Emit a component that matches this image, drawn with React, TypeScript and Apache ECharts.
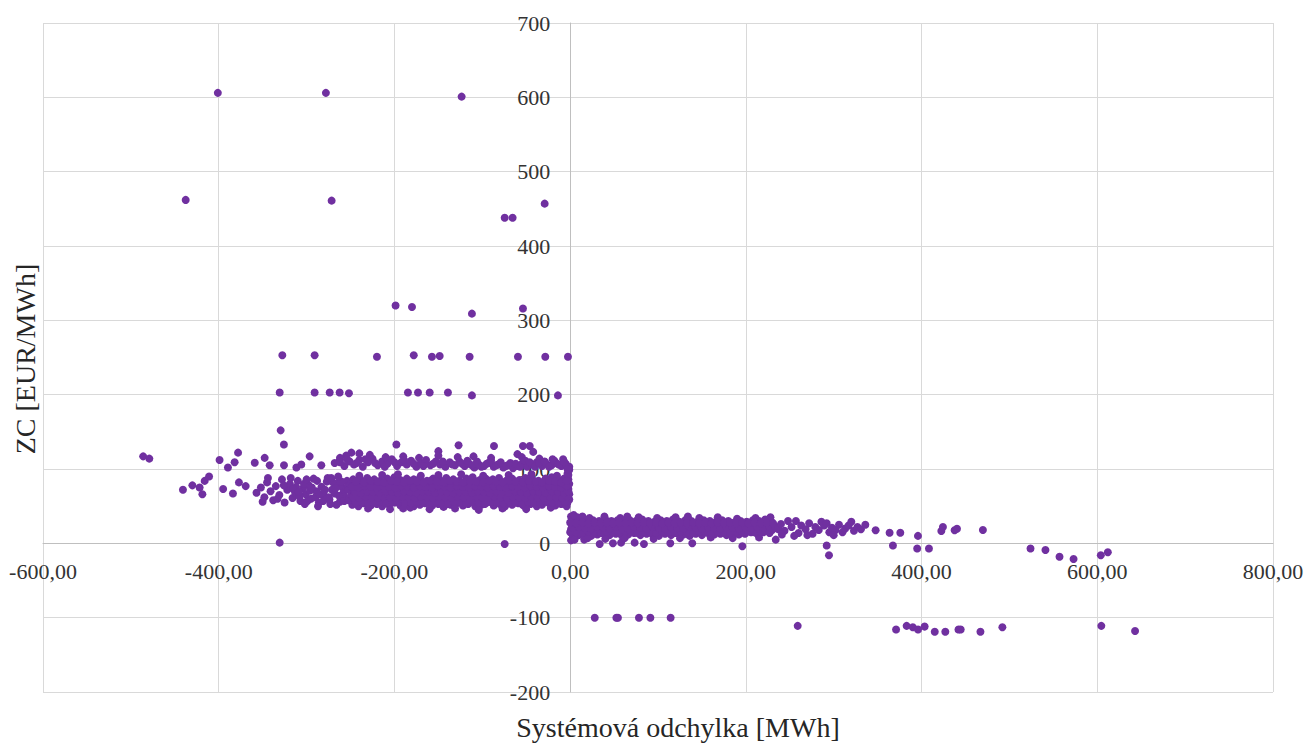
import React, { useEffect, useRef } from "react";
import * as echarts from "echarts";

// ---- Data: [systémová odchylka (MWh), ZC (EUR/MWh)] ----
const highOutliers: [number, number][] = [
  [-401, 606], [-278, 606], [-123.5, 601], [-437.6, 462], [-271.5, 461], [-74.5, 438], [-65.5, 438], [-29, 457],
  [-198.7, 320], [-180, 318], [-111.8, 309], [-53.7, 316],
  [-327.6, 253], [-290.8, 253], [-219.9, 251], [-178, 253], [-157.3, 251], [-148.5, 252], [-114.4, 251], [-59.4, 251], [-28.3, 251], [-2.5, 251],
  [-330.6, 203], [-290.8, 203], [-273.7, 203], [-262.4, 203], [-251.8, 202], [-184.6, 203], [-173.2, 203], [-159.9, 203], [-139.1, 203], [-111.8, 199], [-13.9, 199],
  [-329.5, 152], [-325.8, 133], [-197.8, 133], [-127, 132], [-86.7, 131], [-53.7, 131], [-46, 131], [-150, 124], [-60, 120], [-42, 123], [-240, 121],
];

const farLeftPoints: [number, number][] = [
  [-486, 117], [-479, 114], [-440.7, 72], [-430, 78], [-421.7, 75], [-418.6, 66], [-416, 84], [-411, 90],
  [-399, 112], [-389.5, 102], [-381.9, 109], [-378, 122], [-395, 73], [-383.8, 67], [-377, 82], [-369.3, 77],
  [-359, 108.5], [-347.7, 115], [-342, 105], [-325.7, 105], [-311.6, 102], [-306, 106], [-296.5, 117],
  [-283.2, 105], [-262.3, 111], [-249, 122],
];

const negMainBandLeft: [number, number][] = [
  [-357, 68], [-352, 75], [-348, 62], [-345, 82], [-341, 70], [-338, 58], [-335, 77], [-331, 65], [-328, 86],
  [-325, 55], [-322, 72], [-319, 80], [-316, 61], [-313, 68], [-310, 84], [-307, 57], [-304, 74], [-301, 66],
  [-298, 79], [-295, 60], [-292, 87], [-289, 70], [-286, 55], [-283, 76], [-280, 64], [-277, 83], [-274, 59],
  [-271, 72], [-268, 67], [-265, 80], [-262, 56], [-259, 75], [-256, 62], [-254, 84], [-350, 56], [-333, 60],
  [-318, 88], [-302, 53], [-290, 62], [-276, 88], [-266, 52], [-344, 88], [-326, 78], [-312, 76], [-296, 71],
  [-281, 57], [-270, 82], [-258, 68],
  [-308, 63], [-303, 80], [-299, 57], [-294, 75], [-288, 84], [-285, 66], [-279, 72], [-275, 62], [-272, 88],
  [-267, 74], [-263, 64], [-260, 83], [-257, 57], [-253, 77], [-300, 86], [-287, 50], [-273, 53], [-315, 73],
  [-309, 69], [-264, 90],
];

const negMainBand: [number, number][] = [
  [-248, 52], [-241, 50], [-235, 54], [-227, 51], [-220, 53], [-214, 50], [-206, 52], [-199, 55], [-193, 51], [-185, 53],
  [-178, 50], [-171, 52], [-165, 54], [-157, 51], [-150, 53], [-144, 49], [-136, 52], [-129, 54], [-122, 51], [-116, 53],
  [-108, 50], [-101, 52], [-95, 55], [-87, 51], [-80, 53], [-74, 50], [-66, 52], [-59, 54], [-53, 51], [-45, 53],
  [-38, 50], [-32, 52], [-24, 54], [-17, 51], [-10, 53], [-4, 50],
  [-252, 58], [-245, 57], [-238, 60], [-231, 58], [-224, 56], [-217, 59], [-210, 61], [-203, 57], [-196, 59], [-189, 58],
  [-182, 60], [-175, 56], [-168, 59], [-161, 57], [-154, 60], [-147, 58], [-140, 56], [-133, 59], [-126, 61], [-119, 57],
  [-112, 59], [-105, 58], [-98, 60], [-91, 56], [-84, 59], [-77, 57], [-70, 60], [-63, 58], [-56, 56], [-49, 59],
  [-42, 61], [-35, 57], [-28, 59], [-21, 58], [-14, 60], [-7, 57], [-1, 59],
  [-249, 65], [-242, 63], [-234, 66], [-228, 64], [-221, 67], [-213, 65], [-207, 63], [-200, 66], [-192, 64], [-186, 68],
  [-179, 65], [-172, 63], [-164, 66], [-158, 64], [-151, 67], [-143, 65], [-137, 63], [-130, 66], [-123, 64], [-115, 67],
  [-109, 65], [-102, 63], [-94, 66], [-88, 64], [-81, 67], [-73, 65], [-67, 63], [-60, 66], [-52, 64], [-46, 67],
  [-39, 65], [-31, 63], [-25, 66], [-18, 64], [-11, 67], [-5, 65],
  [-253, 72], [-246, 71], [-239, 74], [-232, 72], [-225, 70], [-218, 73], [-211, 75], [-204, 71], [-197, 73], [-190, 72],
  [-183, 74], [-176, 70], [-169, 73], [-162, 71], [-155, 74], [-148, 72], [-141, 70], [-134, 73], [-127, 75], [-120, 71],
  [-113, 73], [-106, 72], [-99, 74], [-92, 70], [-85, 73], [-78, 71], [-71, 74], [-64, 72], [-57, 70], [-50, 73],
  [-43, 75], [-36, 71], [-29, 73], [-22, 72], [-15, 74], [-8, 70], [-2, 73],
  [-250, 79], [-243, 77], [-236, 80], [-229, 78], [-222, 81], [-215, 79], [-208, 77], [-201, 80], [-194, 78], [-187, 82],
  [-180, 79], [-173, 77], [-166, 80], [-159, 78], [-152, 81], [-145, 79], [-138, 77], [-131, 80], [-124, 78], [-117, 81],
  [-110, 79], [-103, 77], [-96, 80], [-89, 78], [-82, 81], [-75, 79], [-68, 77], [-61, 80], [-54, 78], [-47, 81],
  [-40, 79], [-33, 77], [-26, 80], [-19, 78], [-12, 81], [-6, 79],
  [-247, 86], [-238, 85], [-231, 88], [-223, 86], [-216, 84], [-208, 87], [-200, 89], [-193, 85], [-186, 87], [-178, 86],
  [-171, 88], [-163, 84], [-156, 87], [-148, 85], [-141, 88], [-133, 86], [-126, 84], [-118, 87], [-111, 89], [-103, 85],
  [-96, 87], [-88, 86], [-81, 88], [-73, 84], [-66, 87], [-58, 85], [-51, 88], [-43, 86], [-36, 84], [-28, 87],
  [-21, 89], [-13, 85], [-7, 87], [-2, 86],
  [-230, 47], [-205, 46], [-182, 48], [-160, 46], [-131, 47], [-104, 45], [-77, 47], [-50, 46], [-22, 48], [-190, 47],
  [-240, 91], [-214, 92], [-196, 93], [-170, 91], [-150, 92], [-124, 93], [-99, 91], [-70, 92], [-44, 93], [-15, 91], [-3, 94],
  [-244, 68], [-219, 62], [-195, 69], [-168, 76], [-139, 61], [-112, 68], [-86, 76], [-62, 61], [-35, 68], [-9, 76],
  [-3, 55], [-1, 66], [-1, 80], [-2, 92], [-1, 99],
];

const negMainBandFill: [number, number][] = [
  [-244, 55], [-237, 56], [-230, 54], [-223, 55], [-216, 56], [-209, 54], [-202, 55], [-195, 57], [-188, 55], [-181, 54],
  [-174, 56], [-167, 55], [-160, 54], [-153, 56], [-146, 55], [-139, 53], [-132, 56], [-125, 55], [-118, 54], [-111, 56],
  [-104, 55], [-97, 53], [-90, 56], [-83, 55], [-76, 54], [-69, 56], [-62, 55], [-55, 53], [-48, 56], [-41, 55],
  [-34, 54], [-27, 56], [-20, 55], [-13, 54], [-6, 56],
  [-247, 62], [-240, 61], [-233, 63], [-226, 62], [-219, 61], [-212, 63], [-205, 62], [-198, 61], [-191, 63], [-184, 62],
  [-177, 61], [-170, 63], [-163, 62], [-156, 61], [-149, 63], [-142, 62], [-135, 61], [-128, 63], [-121, 62], [-114, 61],
  [-107, 63], [-100, 62], [-93, 61], [-86, 63], [-79, 62], [-72, 61], [-65, 63], [-58, 62], [-51, 61], [-44, 63],
  [-37, 62], [-30, 61], [-23, 63], [-16, 62], [-9, 61], [-3, 63],
  [-245, 69], [-238, 68], [-231, 70], [-224, 69], [-217, 68], [-210, 70], [-203, 69], [-196, 68], [-189, 70], [-182, 69],
  [-175, 68], [-168, 70], [-161, 69], [-154, 68], [-147, 70], [-140, 69], [-133, 68], [-126, 70], [-119, 69], [-112, 68],
  [-105, 70], [-98, 69], [-91, 68], [-84, 70], [-77, 69], [-70, 68], [-63, 70], [-56, 69], [-49, 68], [-42, 70],
  [-35, 69], [-28, 68], [-21, 70], [-14, 69], [-7, 68], [-2, 70],
  [-248, 76], [-241, 75], [-234, 77], [-227, 76], [-220, 75], [-213, 77], [-206, 76], [-199, 75], [-192, 77], [-185, 76],
  [-178, 75], [-171, 77], [-164, 76], [-157, 75], [-150, 77], [-143, 76], [-136, 75], [-129, 77], [-122, 76], [-115, 75],
  [-108, 77], [-101, 76], [-94, 75], [-87, 77], [-80, 76], [-73, 75], [-66, 77], [-59, 76], [-52, 75], [-45, 77],
  [-38, 76], [-31, 75], [-24, 77], [-17, 76], [-10, 75], [-4, 77],
  [-244, 83], [-235, 82], [-227, 84], [-219, 83], [-212, 82], [-204, 84], [-197, 83], [-189, 82], [-182, 84], [-174, 83],
  [-167, 82], [-159, 84], [-152, 83], [-144, 82], [-137, 84], [-129, 83], [-122, 82], [-114, 84], [-107, 83], [-99, 82],
  [-92, 84], [-84, 83], [-77, 82], [-69, 84], [-62, 83], [-54, 82], [-47, 84], [-39, 83], [-32, 82], [-24, 84],
  [-17, 83], [-10, 82], [-4, 84],
];

const negUpperBand: [number, number][] = [
  [-268, 108], [-262, 115], [-257, 104], [-251, 110], [-246, 106], [-240, 112], [-236, 103], [-230, 109], [-225, 114],
  [-219, 105], [-214, 110], [-208, 107], [-203, 113], [-197, 104], [-192, 109], [-186, 106], [-181, 111], [-175, 103],
  [-170, 108], [-164, 112], [-159, 105], [-153, 110], [-148, 106], [-142, 103], [-137, 109], [-131, 105], [-126, 110],
  [-120, 104], [-115, 107], [-109, 102], [-104, 106], [-98, 104], [-93, 108], [-87, 103], [-82, 106], [-76, 102],
  [-71, 105], [-65, 101], [-60, 104], [-54, 108], [-49, 103], [-43, 106], [-38, 109], [-32, 104], [-27, 107],
  [-21, 105], [-16, 108], [-10, 104], [-5, 107], [-1, 103],
  [-255, 118], [-228, 119], [-210, 116], [-190, 117], [-172, 115], [-150, 118], [-128, 116], [-110, 117], [-90, 115],
  [-55, 116], [-35, 114], [-20, 113], [-8, 113],
  [-262, 109], [-254, 113], [-243, 108], [-233, 113], [-222, 108], [-211, 103], [-200, 109], [-189, 112], [-178, 107],
  [-167, 104], [-156, 107], [-145, 110], [-134, 106], [-123, 107], [-117, 111], [-112, 105], [-106, 110], [-101, 103],
  [-95, 107], [-90, 111], [-84, 105], [-79, 109], [-73, 104], [-68, 108], [-62, 107], [-57, 103], [-51, 111],
  [-46, 109], [-40, 103], [-35, 108], [-29, 110], [-24, 103], [-18, 111], [-13, 106], [-7, 110], [-3, 100],
];

const nearZeroPoints: [number, number][] = [
  [-330.6, 1], [-74.5, -1],
  [33.6, -1], [48.7, 0], [58, 1], [73.4, 1], [84, -1], [114, 0], [139, 0], [196, -4], [234, 5],
  [292, -3], [294.6, -16], [367.4, -3], [395, -7], [408.4, -7],
  [524, -7], [541, -9], [557, -18], [573, -21], [604, -16], [612, -12],
];

const posBand: [number, number][] = [
  [3, 12], [10, 11], [17, 13], [24, 10], [31, 12], [38, 14], [45, 11], [52, 13], [59, 10], [66, 12], [73, 14],
  [80, 11], [87, 13], [94, 12], [101, 10], [108, 13], [115, 11], [122, 14], [129, 12], [136, 10], [143, 13],
  [150, 11], [157, 14], [164, 12], [171, 13], [178, 11], [185, 14], [192, 12], [199, 13], [206, 15], [213, 13],
  [220, 15], [227, 14],
  [6, 18], [13, 17], [20, 19], [27, 18], [34, 16], [41, 19], [48, 18], [55, 17], [62, 19], [69, 18], [76, 16],
  [83, 19], [90, 18], [97, 17], [104, 19], [111, 18], [118, 16], [125, 19], [132, 17], [139, 18], [146, 19],
  [153, 17], [160, 18], [167, 19], [174, 17], [181, 18], [188, 19], [195, 17], [202, 19], [209, 18], [216, 19],
  [223, 20], [230, 18], [237, 19],
  [2, 24], [9, 25], [16, 23], [23, 24], [30, 26], [37, 24], [44, 23], [51, 25], [58, 24], [65, 26], [72, 23],
  [79, 25], [86, 24], [93, 22], [100, 25], [107, 24], [114, 26], [121, 23], [128, 25], [135, 24], [142, 22],
  [149, 25], [156, 24], [163, 26], [170, 23], [177, 25], [184, 24], [191, 26], [198, 23], [205, 25], [212, 24],
  [219, 26], [226, 24], [233, 23],
  [5, 30], [12, 31], [19, 29], [26, 31], [33, 30], [40, 32], [47, 30], [54, 31], [61, 29], [68, 31], [75, 30],
  [82, 32], [89, 30], [96, 29], [103, 31], [110, 30], [117, 32], [124, 29], [131, 31], [138, 30], [145, 29],
  [152, 31], [159, 30], [166, 29], [173, 31], [180, 30], [187, 28], [194, 30], [201, 29], [208, 31], [215, 30],
  [222, 32], [229, 29],
  [8, 35], [22, 34], [39, 36], [57, 34], [78, 35], [99, 34], [120, 35], [147, 34], [168, 35], [190, 33], [211, 34],
  [228, 35], [14, 36], [65, 36], [134, 36],
  [1, 4], [3, 8], [1, 19], [2, 28], [1, 36], [4, 38],
  [5, 5], [16, 5], [20, 7], [40, 6], [62, 7], [95, 6], [125, 7], [160, 8], [185, 7], [215, 8],
];

const posBandFill: [number, number][] = [
  [0, 15], [7, 15], [14, 14], [21, 16], [28, 15], [35, 14], [42, 16], [49, 15], [56, 14], [63, 16], [70, 15],
  [77, 14], [84, 16], [91, 15], [98, 14], [105, 16], [112, 15], [119, 14], [126, 16], [133, 15], [140, 14],
  [147, 16], [154, 15], [161, 14], [168, 16], [175, 15], [182, 14], [189, 16], [196, 15], [203, 16], [210, 15],
  [217, 16], [224, 17],
  [3, 21], [10, 22], [17, 21], [24, 20], [31, 22], [38, 21], [45, 20], [52, 22], [59, 21], [66, 20], [73, 22],
  [80, 21], [87, 20], [94, 22], [101, 21], [108, 20], [115, 22], [122, 21], [129, 20], [136, 22], [143, 21],
  [150, 20], [157, 22], [164, 21], [171, 20], [178, 22], [185, 21], [192, 20], [199, 22], [206, 21], [213, 22],
  [220, 21], [227, 22], [234, 21],
  [0, 28], [7, 27], [14, 28], [21, 27], [28, 28], [35, 27], [42, 28], [49, 27], [56, 28], [63, 27], [70, 28],
  [77, 27], [84, 28], [91, 27], [98, 28], [105, 27], [112, 28], [119, 27], [126, 28], [133, 27], [140, 28],
  [147, 27], [154, 28], [161, 27], [168, 28], [175, 27], [182, 28], [189, 27], [196, 28], [203, 27], [210, 28],
  [217, 27], [224, 28], [231, 27],
];

const posTail: [number, number][] = [
  [240, 26], [244, 17], [248, 30], [252, 22], [257, 30], [260, 14], [263, 24], [268, 19], [272, 27], [276, 13],
  [279, 22], [283, 18], [286, 29], [289, 24], [292, 27], [295, 15], [298, 21], [302, 18], [306, 25], [310, 15],
  [313, 20], [317, 24], [320, 29], [323, 17], [327, 22], [331, 19], [336, 25], [241, 12], [255, 10], [270, 11], [300, 11],
  [347.7, 17.5], [363.6, 14.3], [375.8, 14.3], [395.9, 10], [422.5, 16.5], [424.3, 22], [437.6, 17.5], [440.3, 19.7], [469.8, 18],
];

const minus100Row: [number, number][] = [
  [28, -100], [52.6, -100], [54.4, -100], [78.3, -100], [91.3, -100], [114.4, -100],
  [259, -111], [371, -116], [383, -111], [390, -113], [396, -116], [403.5, -112], [415, -119], [427, -119],
  [442, -116], [444.5, -116], [467, -119], [492, -113], [604.6, -111], [643, -118],
];

const xTicks = { min: -600, max: 800, interval: 200 };
const yTicks = { min: -200, max: 700, interval: 100 };

const xTitle = "Systémová odchylka [MWh]";
const yTitle = "ZC [EUR/MWh]";

const allPoints = [
  ...highOutliers, ...farLeftPoints, ...negMainBandLeft, ...negMainBand, ...negMainBandFill, ...negUpperBand,
  ...nearZeroPoints, ...posBand, ...posBandFill, ...posTail, ...minus100Row,
];

const FONT = "Liberation Serif";
const W = 1308;
const H = 743;
const GRID = { left: 43, right: 35, top: 23, bottom: 51 };

export default function App() {
  const ref = useRef<HTMLDivElement>(null);
  useEffect(() => {
    if (!ref.current) return;
    const chart = echarts.init(ref.current, undefined, { renderer: "svg" });
    // place the axes where the other axis is zero (crossing axes)
    const plotW = W - GRID.left - GRID.right;
    const plotH = H - GRID.top - GRID.bottom;
    const zeroXFromLeft = (plotW * (0 - xTicks.min)) / (xTicks.max - xTicks.min);
    const zeroYFromBottom = (plotH * (0 - yTicks.min)) / (yTicks.max - yTicks.min);
    chart.setOption({
      animation: false,
      backgroundColor: "#ffffff",
      grid: { ...GRID, containLabel: false },
      xAxis: {
        type: "value",
        position: "bottom",
        offset: -zeroYFromBottom,
        min: xTicks.min,
        max: xTicks.max,
        interval: xTicks.interval,
        axisLine: { onZero: false, lineStyle: { color: "#bfbfbf", width: 1 } },
        axisTick: { show: false },
        axisLabel: {
          margin: 17,
          fontFamily: FONT,
          fontSize: 22,
          color: "#333333",
          formatter: (v: number) => v.toFixed(2).replace(".", ","),
        },
        splitLine: { show: true, lineStyle: { color: "#d9d9d9", width: 1 } },
      },
      yAxis: {
        type: "value",
        position: "left",
        offset: -zeroXFromLeft,
        min: yTicks.min,
        max: yTicks.max,
        interval: yTicks.interval,
        axisLine: { onZero: false, lineStyle: { color: "#bfbfbf", width: 1 } },
        axisTick: { show: false },
        axisLabel: {
          margin: 20,
          fontFamily: FONT,
          fontSize: 22,
          color: "#333333",
        },
        splitLine: { show: true, lineStyle: { color: "#d9d9d9", width: 1 } },
      },
      graphic: [
        {
          type: "text",
          x: 678,
          y: 727,
          style: {
            text: xTitle,
            fontFamily: FONT,
            fontSize: 28,
            fill: "#262626",
            align: "center",
            verticalAlign: "middle",
          },
        },
        {
          type: "text",
          x: 25,
          y: 359,
          rotation: Math.PI / 2,
          style: {
            text: yTitle,
            fontFamily: FONT,
            fontSize: 28,
            fill: "#262626",
            align: "center",
            verticalAlign: "middle",
          },
        },
      ],
      series: [
        {
          type: "scatter",
          data: allPoints,
          symbol: "circle",
          symbolSize: 8,
          itemStyle: { color: "#7030a0", opacity: 1 },
          emphasis: { disabled: true },
        },
      ],
    });
    return () => chart.dispose();
  }, []);
  return (
    <div
      ref={ref}
      style={{ position: "fixed", left: 0, top: 0, width: W, height: H, background: "#fff" }}
    />
  );
}
